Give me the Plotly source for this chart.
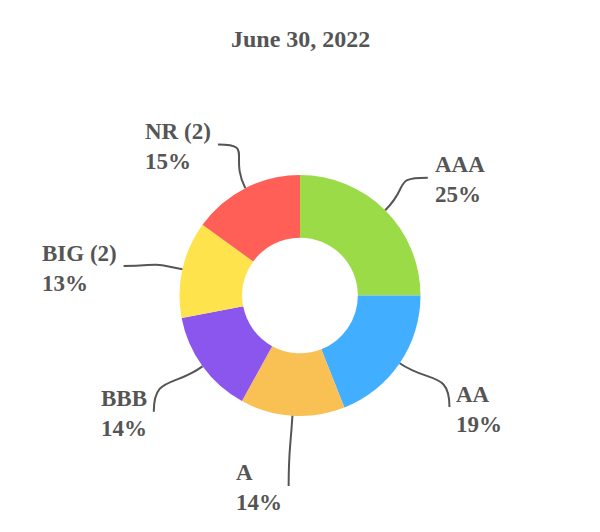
import math
import plotly.graph_objects as go

# Datos del grafico (calificaciones, June 30, 2022)
categorias = ["AAA", "AA", "A", "BBB", "BIG (2)", "NR (2)"]
porcentajes = [25, 19, 14, 14, 13, 15]
colores = ["#9CDB48", "#42AEFF", "#F9C053", "#8B56ED", "#FFE34C", "#FF5F56"]

W, H = 600, 532
cx, cy, R = 300, 295.5, 120.5  # centro y radio del donut en pixeles

def px(x, y):
    # pixeles -> coordenadas paper
    return x / W, 1 - y / H

fig = go.Figure(go.Pie(
    labels=categorias,
    values=porcentajes,
    marker=dict(colors=colores, line=dict(width=0)),
    hole=0.48,
    sort=False,
    direction="clockwise",
    rotation=0,
    textinfo="none",
    hoverinfo="label+percent",
    domain=dict(x=[0, 1], y=[1 - (cy + R) / H, 1 - (cy - R) / H]),
    showlegend=False,
))

# Etiquetas con lineas curvas, calculadas desde el angulo medio de cada porcion
total = sum(porcentajes)
acum = 0
shapes = []
annotations = []
for cat, val in zip(categorias, porcentajes):
    mid = (acum + val / 2) / total * 2 * math.pi
    acum += val
    dx, dy = math.sin(mid), -math.cos(mid)
    p0 = (cx + R * dx, cy + R * dy)
    p1 = (cx + 1.3 * R * dx, cy + 1.3 * R * dy)
    p3 = (cx + 1.5 * R * dx, cy + 1.5 * R * dy + 10)
    if dy > 0.3:
        llegada = (0, 1)  # abajo
    else:
        llegada = (1 if dx > 0 else -1, 0)
    p2 = (p3[0] - llegada[0] * 0.3 * R, p3[1] - llegada[1] * 0.3 * R)
    pts = [px(*p) for p in (p0, p1, p2, p3)]
    path = "M {},{} C {},{} {},{} {},{}".format(
        pts[0][0], pts[0][1], pts[1][0], pts[1][1],
        pts[2][0], pts[2][1], pts[3][0], pts[3][1])
    shapes.append(dict(type="path", path=path, xref="paper", yref="paper",
                       line=dict(color="#555555", width=2)))
    lado = 1 if dx > 0.05 else -1
    ax, ay = px(p3[0] + lado * 5, p3[1] + 2)
    annotations.append(dict(
        x=ax, y=ay, xref="paper", yref="paper",
        text="<b>{}</b><br><b>{}%</b>".format(cat, val),
        showarrow=False, align="left",
        xanchor="left" if lado > 0 else "right", yanchor="middle",
        font=dict(family="Liberation Serif", size=23, color="#555555"),
    ))

# titulo
annotations.append(dict(
    x=0.5, y=1 - 39 / H, xref="paper", yref="paper",
    text="<b>June 30, 2022</b>", showarrow=False,
    xanchor="center", yanchor="middle",
    font=dict(family="Liberation Serif", size=24, color="#555555"),
))

fig.update_layout(
    width=W, height=H,
    margin=dict(l=0, r=0, t=0, b=0),
    paper_bgcolor="white",
    plot_bgcolor="white",
    shapes=shapes,
    annotations=annotations,
)

fig.write_html("out.html", config={"displayModeBar": False},
               post_script="document.body.style.margin='0px';")
